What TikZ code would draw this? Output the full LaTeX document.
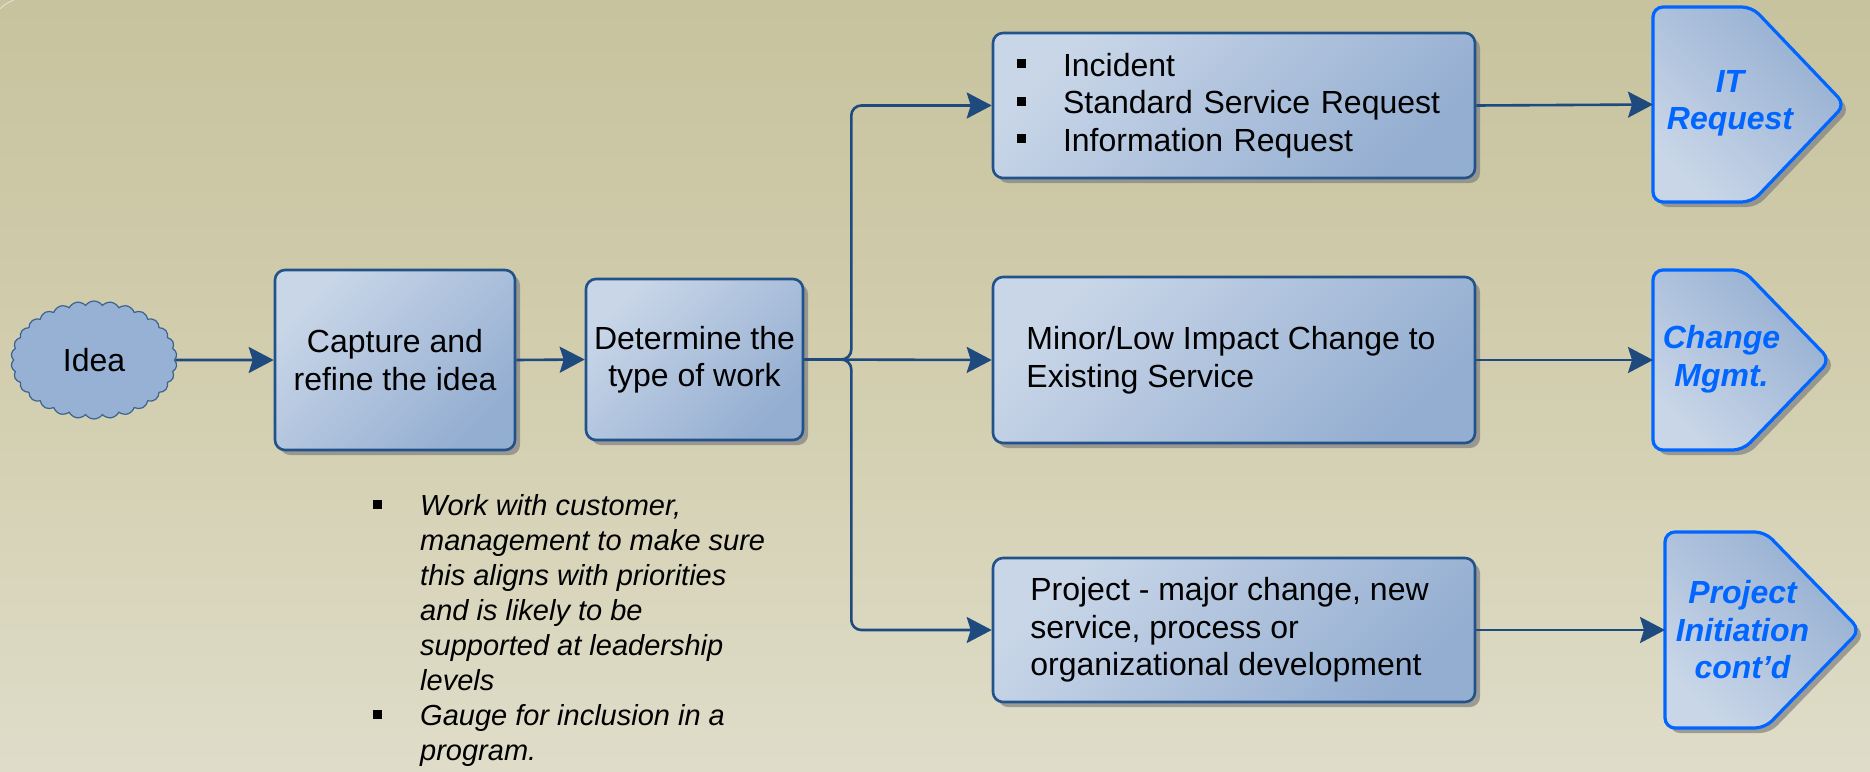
\documentclass[tikz,border=0pt]{standalone}
\usepackage{fontspec}
\setmainfont{Liberation Sans}
\usetikzlibrary{arrows.meta,shapes.symbols,calc}
\definecolor{bgtop}{HTML}{C7C39E}
\definecolor{bgmid}{HTML}{D2CEAF}
\definecolor{bgbot}{HTML}{DFDDC9}
\definecolor{boxlight}{HTML}{C9D6E8}
\definecolor{boxdark}{HTML}{94AED1}
\definecolor{boxborder}{HTML}{22528A}
\definecolor{arrowblue}{HTML}{1F4A7E}
\definecolor{offblue}{HTML}{0066FF}
\definecolor{cloudfill}{HTML}{96B1D3}
\definecolor{cloudline}{HTML}{3A6390}
\newcommand\offpagepath[2]{%
  \path[offshape] (#1.north west) -- ([xshift=#2]#1.north west) -- (#1.east)
    -- ([xshift=#2]#1.south west) -- (#1.south west) -- cycle;}
\newcommand\sqbullet[1]{\makebox[#1][l]{\raisebox{8pt}{\rule{9pt}{9pt}}}}
\tikzset{
  conn/.style={draw=arrowblue, line width=2.6pt,
    -{Stealth[length=25pt,width=26pt,inset=4pt]}},
  boxshadow/.style={preaction={fill=black!50, fill opacity=0.7,
    transform canvas={shift={(5pt,-5pt)}}}},
  procbox/.style={boxshadow, rounded corners=10pt, draw=boxborder,
    line width=2.6pt, top color=boxlight, bottom color=boxdark,
    shading angle=45, inner sep=0pt,
    font=\fontsize{32pt}{37.5pt}\selectfont},
  offshape/.style={boxshadow, rounded corners=10pt, draw=offblue,
    line width=3.2pt, top color=boxdark, bottom color=boxlight,
    shading angle=-45},
  offframe/.style={inner sep=0pt, outer sep=0pt, draw=none},
  offtext/.style={inner sep=0pt, text=offblue, align=center,
    font=\fontsize{32pt}{37.5pt}\selectfont\bfseries\itshape},
  cloudnode/.style={cloud, cloud puffs=30, cloud puff arc=110,
    cloud ignores aspect, minimum width=166pt, minimum height=118pt,
    fill=cloudfill, draw=cloudline, line width=1.2pt, inner sep=0pt,
    font=\fontsize{32pt}{37.5pt}\selectfont},
  notetext/.style={inner sep=0pt, align=left,
    font=\fontsize{29pt}{35pt}\selectfont\itshape}
}
\begin{document}
\begin{tikzpicture}[x=1pt,y=-1pt]
\useasboundingbox (0,0) rectangle (1870,771);
\shade[top color=bgtop, bottom color=bgbot, middle color=bgmid]
  (0,0) rectangle (1870,771);
\draw[white, opacity=0.5, line width=1pt] (0,9) .. controls (5,4) .. (14,0);

% nodes
\node[cloudnode] (idea) at (94,360) {Idea};
\node[procbox, minimum width=240pt, minimum height=180pt, align=center]
  (cap) at (395,360) {Capture and\\refine the idea};
\node[procbox, minimum width=217pt, minimum height=161pt, align=center]
  (det) at (694.5,359.5) {Determine the\\type of work};
\node[procbox, minimum width=482pt, minimum height=145pt, text width=434pt,
  inner xsep=24pt, align=left] (inc) at (1234,105.5)
  {\sqbullet{46pt}Incident\\\sqbullet{46pt}Standard Service Request\\\sqbullet{46pt}Information Request};
\node[procbox, minimum width=482pt, minimum height=166pt, align=left]
  (mid) at (1234,360)
  {Minor/Low Impact Change to\hspace*{6pt}\\Existing Service};
\node[procbox, minimum width=482pt, minimum height=144pt, align=left]
  (bot) at (1234,630)
  {Project - major change, new\\service, process or\\organizational development\hspace*{16pt}};

% off-page connectors
\node[offframe, minimum width=192pt, minimum height=195pt] (it) at (1749,104.5) {};
\node[offframe, minimum width=177pt, minimum height=180pt] (chg) at (1741.5,360) {};
\node[offframe, minimum width=195pt, minimum height=196pt] (prj) at (1762.5,630) {};
\offpagepath{it}{99pt}
\offpagepath{chg}{90pt}
\offpagepath{prj}{100pt}
\node[offtext] (itlbl) at ([xshift=-19pt,yshift=1pt]it.center) {IT\\Request};
\node[offtext] (chglbl) at ([xshift=-20pt,yshift=1pt]chg.center) {Change\\Mgmt.};
\node[offtext] (prjlbl) at ([xshift=-20pt]prj.center) {Project\\Initiation\\cont’d};

% notes
\node[notetext, anchor=north west] (notes) at (373,494)
  {\makebox[47pt][l]{\raisebox{6pt}{\rule{9pt}{9pt}}}Work with customer,\\
   \hspace*{47pt}management to make sure\\
   \hspace*{47pt}this aligns with priorities\\
   \hspace*{47pt}and is likely to be\\
   \hspace*{47pt}supported at leadership\\
   \hspace*{47pt}levels\\
   \makebox[47pt][l]{\raisebox{6pt}{\rule{9pt}{9pt}}}Gauge for inclusion in a\\
   \hspace*{47pt}program.};

% connectors
\draw[conn] (idea.east) -- (cap.west);
\draw[conn] (cap.east) -- (det.west);
\draw[conn, rounded corners=10pt] (det.east) -- ++(47,0) |- (inc.west);
\draw[conn] (det.east) -- (mid.west);
\draw[conn, rounded corners=10pt] (det.east) -- ++(47,0) |- (bot.west);
\draw[conn] (inc.east) -- (it.west);
\draw[conn] (mid.east) -- (chg.west);
\draw[conn] (bot.east) -- (prj.west);
\end{tikzpicture}
\end{document}
